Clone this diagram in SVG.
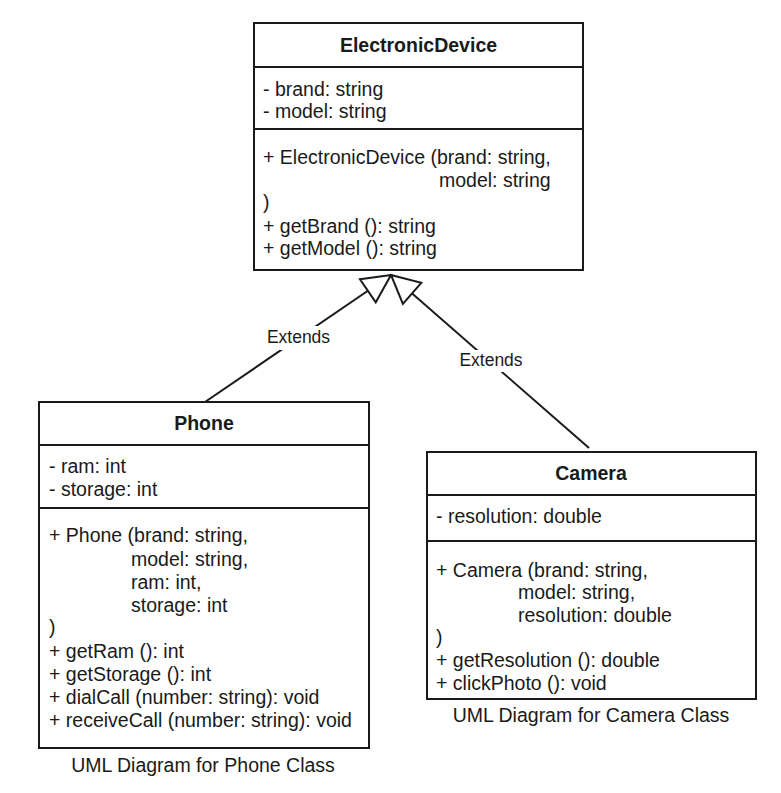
<svg xmlns="http://www.w3.org/2000/svg" width="781" height="793" viewBox="0 0 781 793">
  <style>
    .box { fill: #ffffff; stroke: #1a1a1a; stroke-width: 2; }
    .div { stroke: #1a1a1a; stroke-width: 2; }
    text { font-family: "Liberation Sans", Arial, sans-serif; fill: #1a1a1a; font-size: 19.5px; }
    .title { font-weight: bold; text-anchor: middle; }
    .cap { text-anchor: middle; }
    .lbl { font-size: 17.5px; text-anchor: middle; }
    .edge { fill: none; stroke: #1a1a1a; stroke-width: 2; }
  </style>
  <defs>
    <!-- hollow triangle for generalization -->
    <marker id="gen" markerUnits="userSpaceOnUse" markerWidth="32" markerHeight="32" viewBox="-2 -16 32 32" refX="28" refY="0" orient="auto">
      <path d="M0,-14 L28,0 L0,14 Z" fill="#ffffff" stroke="#1a1a1a" stroke-width="2" stroke-linejoin="miter"/>
    </marker>
  </defs>

  <rect width="781" height="793" fill="#ffffff"/>

  <!-- inheritance connectors -->
  <g id="connectors">
    <path class="edge" d="M205,402 L391,275" marker-end="url(#gen)"/>
    <path class="edge" d="M589,448 L391,275" marker-end="url(#gen)"/>
    <rect x="263" y="326" width="72" height="24" fill="#ffffff"/>
    <text class="lbl" x="298.5" y="343">Extends</text>
    <rect x="455" y="350" width="72" height="22" fill="#ffffff"/>
    <text class="lbl" x="491" y="366">Extends</text>
  </g>

  <!-- ElectronicDevice class -->
  <g id="electronic-device">
    <rect class="box" x="254" y="23" width="329" height="247"/>
    <line class="div" x1="254" y1="67" x2="583" y2="67"/>
    <line class="div" x1="254" y1="129" x2="583" y2="129"/>
    <text class="title" x="418.5" y="52">ElectronicDevice</text>
    <text x="263" y="96">- brand: string</text>
    <text x="263" y="118">- model: string</text>
    <text x="263" y="164">+ ElectronicDevice (brand: string,</text>
    <text x="439" y="187">model: string</text>
    <text x="263" y="209">)</text>
    <text x="263" y="233">+ getBrand (): string</text>
    <text x="263" y="255">+ getModel (): string</text>
  </g>

  <!-- Phone class -->
  <g id="phone">
    <rect class="box" x="39" y="402" width="330" height="346"/>
    <line class="div" x1="39" y1="445" x2="369" y2="445"/>
    <line class="div" x1="39" y1="508" x2="369" y2="508"/>
    <text class="title" x="204" y="430">Phone</text>
    <text x="49" y="473">- ram: int</text>
    <text x="49" y="496">- storage: int</text>
    <text x="49" y="542">+ Phone (brand: string,</text>
    <text x="131" y="566">model: string,</text>
    <text x="131" y="589">ram: int,</text>
    <text x="131" y="612">storage: int</text>
    <text x="49" y="634">)</text>
    <text x="49" y="658">+ getRam (): int</text>
    <text x="49" y="681">+ getStorage (): int</text>
    <text x="49" y="704">+ dialCall (number: string): void</text>
    <text x="49" y="727">+ receiveCall (number: string): void</text>
    <text class="cap" x="203" y="772">UML Diagram for Phone Class</text>
  </g>

  <!-- Camera class -->
  <g id="camera">
    <rect class="box" x="427" y="452" width="329" height="247"/>
    <line class="div" x1="427" y1="495" x2="756" y2="495"/>
    <line class="div" x1="427" y1="541" x2="756" y2="541"/>
    <text class="title" x="591" y="480">Camera</text>
    <text x="436" y="523">- resolution: double</text>
    <text x="436" y="577">+ Camera (brand: string,</text>
    <text x="518" y="599">model: string,</text>
    <text x="518" y="622">resolution: double</text>
    <text x="436" y="644">)</text>
    <text x="436" y="667">+ getResolution (): double</text>
    <text x="436" y="690">+ clickPhoto (): void</text>
    <text class="cap" x="591" y="722">UML Diagram for Camera Class</text>
  </g>
</svg>
